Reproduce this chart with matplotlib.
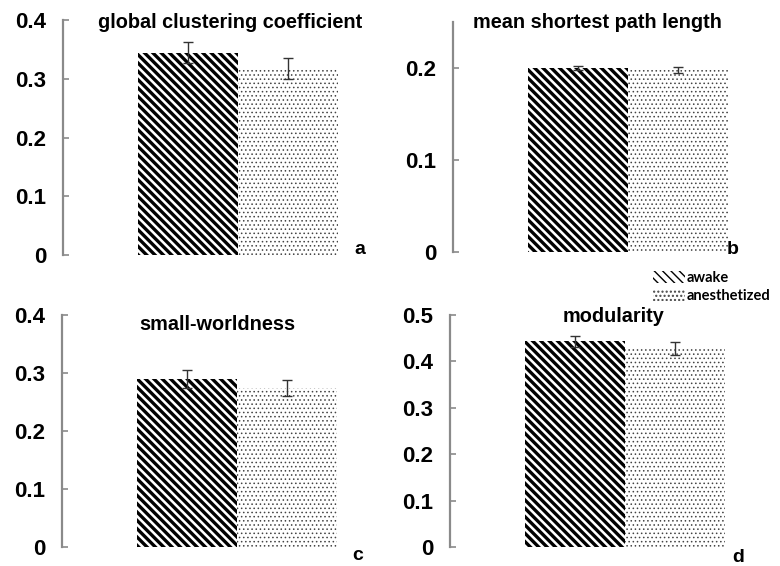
import matplotlib
matplotlib.use("Agg")
import matplotlib as mpl
import matplotlib.pyplot as plt
from matplotlib.patches import Patch
from matplotlib.ticker import FuncFormatter

plt.rcParams["font.family"] = ["Liberation Sans", "DejaVu Sans"]

# Network measures, awake vs anesthetized (mean and error)
titles = ["global clustering coefficient", "mean shortest path length",
          "small-worldness", "modularity"]
letters = ["a", "b", "c", "d"]
groups = ["awake", "anesthetized"]
awake = [0.344, 0.200, 0.290, 0.443]
anesthetized = [0.317, 0.198, 0.274, 0.428]
awake_err = [0.018, 0.002, 0.016, 0.012]
anesthetized_err = [0.018, 0.003, 0.014, 0.014]
y_max = [0.4, 0.25, 0.4, 0.5]
y_ticks = [[0, 0.1, 0.2, 0.3, 0.4], [0, 0.1, 0.2],
           [0, 0.1, 0.2, 0.3, 0.4], [0, 0.1, 0.2, 0.3, 0.4, 0.5]]

W, H = 780, 566
fig = plt.figure(figsize=(W / 100, H / 100), dpi=100)

# axes boxes in pixels: left, top(y=max), bottom(y=0)
boxes = [(63, 20, 255), (453, 22, 252), (62, 315, 547), (450, 315, 547)]
title_pos = [(230, 22), (597, 22), (217, 325), (613, 317)]
letter_pos = [(360, 250), (733, 250), (358, 555), (738, 557)]

# hatch style per group: (pattern, hatch line width, hatch colour)
styles = [("\\\\\\\\", 2.4, "black"), ("....", 0.6, "#444444")]
spine_gray = "#8a8a8a"


def hatched_bar(ax, x, h, style):
    pattern, lw, col = style
    with mpl.rc_context({"hatch.linewidth": lw}):
        ax.bar([x], [h], width=1.0, color="white", edgecolor=col,
               linewidth=0, hatch=pattern)


def hatched_patch(style, label):
    pattern, lw, col = style
    with mpl.rc_context({"hatch.linewidth": lw}):
        return Patch(facecolor="white", edgecolor=col, linewidth=0,
                     hatch=pattern, label=label)


for i in range(4):
    left, top, bottom = boxes[i]
    width = 300
    ax = fig.add_axes([left / W, 1 - bottom / H, width / W, (bottom - top) / H])
    vals = [awake[i], anesthetized[i]]
    errs = [awake_err[i], anesthetized_err[i]]
    for k in range(2):
        hatched_bar(ax, k, vals[k], styles[k])
    ax.errorbar([0, 1], vals, yerr=errs, fmt="none", ecolor="#333333",
                elinewidth=1.0, capsize=3.5, capthick=1.0)
    ax.set_xlim(-1.25, 1.75)
    ax.set_ylim(0, y_max[i])
    ax.set_yticks(y_ticks[i])
    ax.yaxis.set_major_formatter(
        FuncFormatter(lambda v, p: "0" if abs(v) < 1e-9 else f"{v:.1f}"))
    for s in ["top", "right", "bottom"]:
        ax.spines[s].set_visible(False)
    ax.spines["left"].set_color(spine_gray)
    ax.spines["left"].set_linewidth(1.6)
    ax.set_xticks([])
    ax.tick_params(axis="y", direction="in", length=4, width=1.2,
                   color=spine_gray, labelsize=16, pad=12)
    for lab in ax.get_yticklabels():
        lab.set_fontweight("bold")
    fig.text(title_pos[i][0] / W, 1 - title_pos[i][1] / H, titles[i],
             ha="center", va="center", fontsize=14.3, fontweight="bold")
    fig.text(letter_pos[i][0] / W, 1 - letter_pos[i][1] / H, letters[i],
             ha="center", va="center", fontsize=14, fontweight="bold")

handles = [hatched_patch(styles[k], groups[k]) for k in range(2)]
fig.legend(handles=handles, loc="upper left",
           bbox_to_anchor=(650 / W, 1 - 268 / H), frameon=False,
           prop={"family": "Lato", "weight": "bold", "size": 10.5},
           handlelength=2.2, handleheight=0.9, handletextpad=0.1,
           labelspacing=0.25, borderpad=0.2, borderaxespad=0)

fig.savefig("out.png", dpi=100)
